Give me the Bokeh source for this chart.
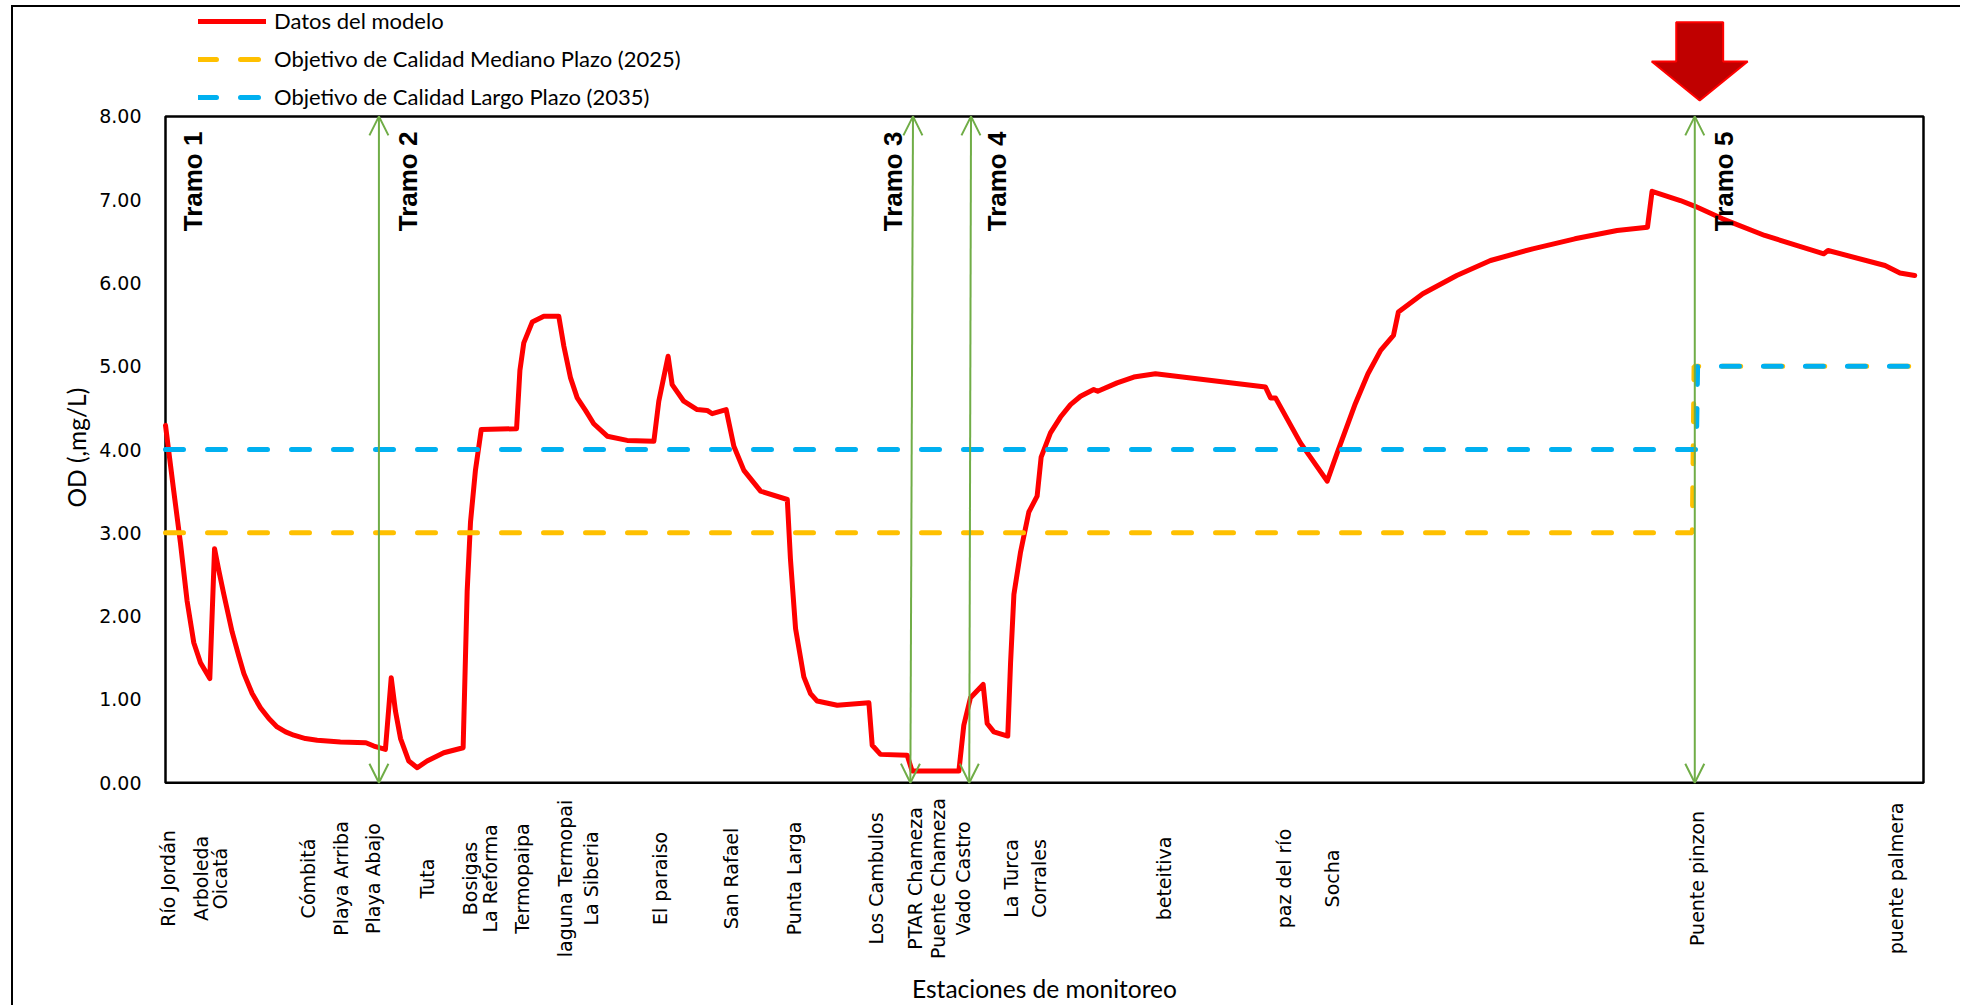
import math
from bokeh.plotting import figure
from bokeh.models import (FixedTicker, NumeralTickFormatter, Legend, LegendItem, Range1d, Arrow,
                          OpenHead, Title)
from bokeh.core.properties import value
from bokeh.embed import file_html
from bokeh.resources import INLINE

# ---------------- data ----------------
# abscissa: position along the modelled reach (0-100), ordinate: OD (mg/L)
model_x = [0.0, 0.47, 0.85, 1.23, 1.61, 1.99, 2.52, 2.79, 3.03, 3.32, 3.79, 4.17, 4.46, 4.93,
           5.40, 5.88, 6.35, 6.83, 7.30, 7.96, 8.63, 9.95, 11.40, 11.85, 12.51, 12.84, 13.08,
           13.37, 13.84, 14.32, 14.88, 15.83, 16.93, 17.16, 17.35, 17.63, 17.96, 19.97, 20.16,
           20.38, 20.86, 21.52, 22.37, 22.66, 23.04, 23.42, 23.89, 24.36, 25.13, 26.26, 27.78,
           28.06, 28.59, 28.82, 29.48, 30.24, 30.81, 31.10, 31.89, 32.33, 32.90, 33.85, 35.37,
           35.55, 35.84, 36.31, 36.69, 37.07, 38.21, 40.01, 40.20, 40.67, 42.19, 42.47, 45.13,
           45.41, 45.79, 46.51, 46.74, 47.12, 47.91, 48.07, 48.26, 48.63, 49.11, 49.58, 49.81,
           50.34, 50.91, 51.48, 52.05, 52.80, 53.03, 54.13, 55.08, 56.31, 62.57, 62.86, 63.14,
           64.56, 66.08, 66.65, 67.68, 68.40, 69.12, 69.85, 70.13, 71.52, 73.45, 75.37, 77.77,
           80.17, 82.57, 84.30, 84.56, 86.17, 87.01, 88.57, 90.97, 94.33, 94.57, 97.81, 98.66,
           99.50]
model_od = [4.29, 3.50, 2.88, 2.18, 1.68, 1.44, 1.25, 2.81, 2.55, 2.26, 1.81, 1.52, 1.31, 1.07,
            0.90, 0.77, 0.67, 0.61, 0.57, 0.53, 0.51, 0.49, 0.48, 0.44, 0.40, 1.26, 0.86,
            0.53, 0.26, 0.18, 0.26, 0.36, 0.42, 2.30, 3.13, 3.75, 4.24, 4.25, 4.95,
            5.28, 5.53, 5.60, 5.60, 5.24, 4.86, 4.62, 4.47, 4.31, 4.16, 4.11, 4.10,
            4.58, 5.12, 4.78, 4.58, 4.48, 4.47, 4.43, 4.48, 4.04, 3.75, 3.50, 3.40,
            2.68, 1.85, 1.27, 1.07, 0.98, 0.93, 0.96, 0.45, 0.34, 0.33, 0.14, 0.14,
            0.69, 1.02, 1.18, 0.71, 0.61, 0.56, 1.44, 2.26, 2.76, 3.25, 3.44, 3.91,
            4.20, 4.39, 4.54, 4.64, 4.72, 4.70, 4.80, 4.87, 4.91, 4.75, 4.62, 4.62,
            4.08, 3.62, 3.96, 4.55, 4.91, 5.19, 5.37, 5.65, 5.87, 6.09, 6.27, 6.41,
            6.53, 6.63, 6.67, 7.10, 6.99, 6.92, 6.77, 6.57, 6.35, 6.39, 6.21, 6.12,
            6.09]

mid_term_x = [0.0, 86.85, 86.95, 100.0]
mid_term_od = [3.0, 3.0, 5.0, 5.0]
long_term_x = [0.0, 87.08, 87.15, 100.0]
long_term_od = [4.0, 4.0, 5.0, 5.0]

stations = ["Río Jordán", "Arboleda", "Oicatá", "Cómbitá", "Playa Arriba", "Playa Abajo",
            "Tuta", "Bosigas", "La Reforma", "Termopaipa", "laguna Termopai", "La Siberia",
            "El paraiso", "San Rafael", "Punta Larga", "Los Cambulos", "PTAR Chameza",
            "Puente Chameza", "Vado Castro", "La Turca", "Corrales", "beteitiva",
            "paz del río", "Socha", "Puente pinzon", "puente palmera"]
station_x = [0.15, 2.0, 3.1, 8.12, 10.0, 11.83, 14.89, 17.30, 18.45, 20.30, 22.71, 24.21,
             28.12, 32.18, 35.74, 40.44, 42.65, 43.97, 45.39, 48.07, 49.70, 56.77,
             63.60, 66.38, 87.09, 98.41]

tramos = ["Tramo 1", "Tramo 2", "Tramo 3", "Tramo 4", "Tramo 5"]
tramo_label_x = [1.54, 13.82, 41.38, 47.29, 88.64]
boundary_x_bottom = [12.14, 42.37, 45.72, 86.99]
boundary_x_top = [12.14, 42.52, 45.82, 86.99]

Y_MAX = 8.0
X_MAX = 100.0
STATION_LABEL_Y = -1.15   # centre line of the station names, below the axis
TRAMO_LABEL_Y = 6.62

# ---------------- figure ----------------
p = figure(width=1960, height=1005,
           x_range=Range1d(-1.1377, 101.138), y_range=Range1d(-2.2669, 9.3073),
           min_border_left=145, min_border_right=17, min_border_top=7, min_border_bottom=33,
           output_backend="svg", toolbar_location=None)
# chart-area frame (top and left edges, as in the original)
p.styles = {"background": "linear-gradient(#000, #000) 11px 5px / 2px 1000px no-repeat, "
                          "linear-gradient(#000, #000) 11px 5px / 1949px 2px no-repeat"}
p.outline_line_color = None
p.xgrid.visible = False
p.ygrid.visible = False
p.background_fill_alpha = 0
p.border_fill_alpha = 0

# plot-area border
p.quad(left=[0], right=[X_MAX], bottom=[0], top=[Y_MAX], fill_color=None,
       line_color="black", line_width=2.5)

r_model = p.line(model_x, model_od, line_color="#FF0000", line_width=5,
                 line_join="round", line_cap="round")
r_mid = p.line(mid_term_x, mid_term_od, line_color="#FFC000", line_width=5,
               line_dash="18 24", line_cap="round")
r_long = p.line(long_term_x, long_term_od, line_color="#00B0F0", line_width=5,
                line_dash="18 24", line_cap="round")

# reach boundaries (double-headed arrows)
green = "#70AD47"
for xb, xt in zip(boundary_x_bottom, boundary_x_top):
    p.add_layout(Arrow(start=OpenHead(size=19, line_color=green, line_width=2),
                       end=OpenHead(size=19, line_color=green, line_width=2),
                       x_start=xb, y_start=0, x_end=xt, y_end=Y_MAX,
                       line_color=green, line_width=2))

# reach labels
p.text(x=tramo_label_x, y=[TRAMO_LABEL_Y] * len(tramos), text=tramos, angle=math.pi / 2,
       text_align="left", text_baseline="middle", text_color="black",
       text_font=value("Liberation Sans"), text_font_style="bold", text_font_size="26px")

# station names below the axis
p.text(x=station_x, y=[STATION_LABEL_Y] * len(stations), text=stations, angle=math.pi / 2,
       text_align="center", text_baseline="middle", text_color="black",
       text_font=value("DejaVu Sans"), text_font_size="19px")

# red block arrow pointing at the last reach
cx = boundary_x_top[-1] + 0.28
tip_y = Y_MAX + 0.19
head_h, shaft_h = 0.47, 0.47
head_w, shaft_w = 2.73, 1.335
arrow_x = [cx, cx - head_w, cx - shaft_w, cx - shaft_w, cx + shaft_w, cx + shaft_w, cx + head_w]
arrow_y = [tip_y, tip_y + head_h, tip_y + head_h, tip_y + head_h + shaft_h,
           tip_y + head_h + shaft_h, tip_y + head_h, tip_y + head_h]
p.patch(arrow_x, arrow_y, fill_color="#C00000", line_color="#FF0000", line_width=2)

# y axis
p.yaxis.bounds = (0, Y_MAX)
p.yaxis.ticker = FixedTicker(ticks=[0, 1, 2, 3, 4, 5, 6, 7, 8])
p.yaxis.formatter = NumeralTickFormatter(format="0.00")
p.yaxis.axis_line_color = None
p.yaxis.major_tick_out = 0
p.yaxis.major_tick_in = 0
p.yaxis.minor_tick_out = 0
p.yaxis.minor_tick_in = 0
p.yaxis.major_label_standoff = 4
p.yaxis.major_label_text_font = "DejaVu Sans"
p.yaxis.major_label_text_font_size = "19px"
p.yaxis.major_label_text_color = "black"

# y-axis title, centred on the 0-8 scale (the frame also holds the legend and the labels)
p.add_layout(Title(text="OD (,mg/L)", align="left", offset=464, vertical_align="middle",
                   standoff=10, text_font="Lato", text_font_size="24.5px",
                   text_font_style="normal", text_color="black"), "left")

# x axis (only its title; station names are placed under the plot)
p.xaxis.bounds = (0, X_MAX)
p.xaxis.ticker = FixedTicker(ticks=[])
p.xaxis.axis_line_color = None
p.xaxis.major_tick_out = 0
p.xaxis.major_tick_in = 0
p.xaxis.minor_tick_out = 0
p.xaxis.minor_tick_in = 0
p.xaxis.major_label_standoff = 0
p.xaxis.axis_label = "Estaciones de monitoreo"
p.xaxis.axis_label_standoff = 2
p.xaxis.axis_label_text_font = "Lato"
p.xaxis.axis_label_text_font_style = "normal"
p.xaxis.axis_label_text_font_size = "24.5px"
p.xaxis.axis_label_text_color = "black"

legend = Legend(items=[LegendItem(label="Datos del modelo", renderers=[r_model]),
                       LegendItem(label="Objetivo de Calidad Mediano Plazo (2025)", renderers=[r_mid]),
                       LegendItem(label="Objetivo de Calidad Largo Plazo (2035)", renderers=[r_long])],
                location=(53, 861), orientation="vertical",
                glyph_width=68, glyph_height=20, label_height=20, spacing=11,
                label_standoff=8, padding=0, margin=0,
                border_line_color=None, background_fill_alpha=0,
                label_text_font="Lato", label_text_font_size="22px", label_text_color="black")
p.add_layout(legend)

open("out.html", "w").write(file_html(p, INLINE))
